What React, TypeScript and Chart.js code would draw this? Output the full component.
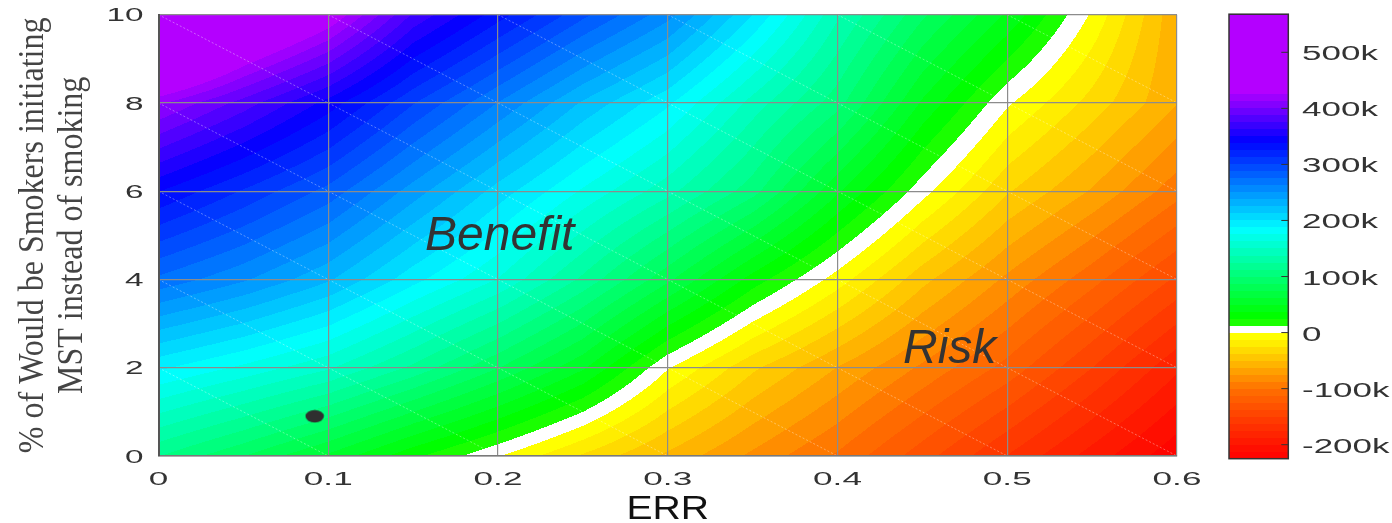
import React, { useEffect, useRef } from "react";
import { Chart, registerables } from "chart.js";

Chart.register(...registerables);

// ---------- data ----------
const ERR_GRID = [0, 0.05, 0.1, 0.15, 0.2, 0.25, 0.3, 0.35, 0.4, 0.45, 0.5, 0.55, 0.6];
const SHARE_GRID = [0, 2, 4, 6, 8, 10];
// net effect (thousands) along ERR_GRID, one array per SHARE_GRID row
const net_share0 = [113, 88, 60, 28, 1, -27, -53, -78, -102, -132, -163, -193, -222];
const net_share2 = [190, 172, 152, 122, 88, 52, 1, -35, -63, -90, -117, -150, -185];
const net_share4 = [272, 252, 227, 192, 162, 122, 78, 32, -6, -46, -78, -108, -140];
const net_share6 = [338, 311, 283, 244, 207, 173, 142, 105, 52, 5, -36, -64, -95];
const net_share8 = [415, 382, 345, 301, 262, 223, 190, 145, 105, 48, 2, -30, -62];
const net_share10 = [560, 485, 440, 373, 331, 291, 255, 200, 140, 90, 48, -2, -60];
const NET_ROWS = [net_share0, net_share2, net_share4, net_share6, net_share8, net_share10];

const X_TICKS = [0, 0.1, 0.2, 0.3, 0.4, 0.5, 0.6];
const X_TICK_LABELS = ["0", "0.1", "0.2", "0.3", "0.4", "0.5", "0.6"];
const Y_TICKS = [0, 2, 4, 6, 8, 10];
const Y_TICK_LABELS = ["0", "2", "4", "6", "8", "10"];
const CB_TICKS = [-200, -100, 0, 100, 200, 300, 400, 500];
const CB_TICK_LABELS = ["-200k", "-100k", "0", "100k", "200k", "300k", "400k", "500k"];
const CB_RANGE = [-225, 568];
const LEVEL_STEP = 12.5;
const MARKER = [{ x: 0.092, y: 0.9 }];
const X_TITLE = "ERR";
const Y_TITLE = ["% of Would be Smokers initiating", "MST instead of smoking"];
const LABEL_BENEFIT = "Benefit";
const LABEL_RISK = "Risk";

// ---------- colour map ----------
const CMAP: [number, number[]][] = [
  [-225, [255, 0, 0]],
  [-204, [255, 16, 0]],
  [-150, [255, 64, 0]],
  [-100, [255, 112, 0]],
  [-79, [255, 144, 0]],
  [-49, [255, 191, 0]],
  [-25, [255, 228, 0]],
  [-6, [255, 255, 0]],
  [0, [255, 255, 0]],
  [12.5, [40, 255, 0]],
  [31, [0, 255, 0]],
  [183, [0, 255, 255]],
  [341, [0, 0, 255]],
  [430, [180, 0, 255]],
  [700, [180, 0, 255]],
];

function cmap(v: number): number[] {
  if (v <= CMAP[0][0]) return CMAP[0][1];
  for (let i = 1; i < CMAP.length; i++) {
    if (v <= CMAP[i][0]) {
      const [v0, c0] = CMAP[i - 1];
      const [v1, c1] = CMAP[i];
      const t = (v - v0) / (v1 - v0);
      return [0, 1, 2].map((k) => Math.round(c0[k] + (c1[k] - c0[k]) * t));
    }
  }
  return CMAP[CMAP.length - 1][1];
}

function bandColor(v: number): number[] {
  const b = Math.floor(v / LEVEL_STEP);
  if (b === 0) return [255, 255, 255];
  return cmap((b + 0.5) * LEVEL_STEP);
}

function locate(arr: number[], v: number): [number, number] {
  let i = 0;
  while (i < arr.length - 2 && v > arr[i + 1]) i++;
  let t = (v - arr[i]) / (arr[i + 1] - arr[i]);
  t = Math.max(0, Math.min(1, t));
  return [i, t];
}

function fieldAt(x: number, y: number): number {
  const [i, tx] = locate(ERR_GRID, x);
  const [j, ty] = locate(SHARE_GRID, y);
  const a = NET_ROWS[j][i] * (1 - tx) + NET_ROWS[j][i + 1] * tx;
  const b = NET_ROWS[j + 1][i] * (1 - tx) + NET_ROWS[j + 1][i + 1] * tx;
  return a * (1 - ty) + b * ty;
}

function stretchedText(
  ctx: CanvasRenderingContext2D,
  text: string,
  x: number,
  y: number,
  font: string,
  sx: number,
  align: "left" | "center" | "right",
  color: string
) {
  ctx.save();
  ctx.font = font;
  ctx.fillStyle = color;
  ctx.textBaseline = "alphabetic";
  ctx.textAlign = "left";
  const w = ctx.measureText(text).width * sx;
  const left = align === "center" ? x - w / 2 : align === "right" ? x - w : x;
  ctx.translate(left, y);
  ctx.scale(sx, 1);
  ctx.fillText(text, 0, 0);
  ctx.restore();
}

const heatmapPlugin = {
  id: "heatmap",
  beforeDraw(chart: any) {
    const { ctx, chartArea: a, scales } = chart;
    const xs = scales.x;
    const ys = scales.y;
    const L = Math.round(a.left);
    const T = Math.round(a.top);
    const W = Math.round(a.right) - L;
    const H = Math.round(a.bottom) - T;
    const img = ctx.createImageData(W, H);
    const xv: number[] = [];
    for (let i = 0; i < W; i++) xv.push(xs.getValueForPixel(L + i + 0.5));
    for (let j = 0; j < H; j++) {
      const yv = ys.getValueForPixel(T + j + 0.5);
      for (let i = 0; i < W; i++) {
        const c = bandColor(fieldAt(xv[i], yv));
        const p = (j * W + i) * 4;
        img.data[p] = c[0];
        img.data[p + 1] = c[1];
        img.data[p + 2] = c[2];
        img.data[p + 3] = 255;
      }
    }
    ctx.putImageData(img, L, T);

    // faint diagonal artefacts of the triangulated surface
    ctx.save();
    ctx.strokeStyle = "rgba(255,255,255,0.45)";
    ctx.lineWidth = 0.8;
    ctx.setLineDash([2, 2]);
    for (let i = 0; i < X_TICKS.length - 1; i++) {
      for (let j = 0; j < Y_TICKS.length - 1; j++) {
        ctx.beginPath();
        ctx.moveTo(xs.getPixelForValue(X_TICKS[i]), ys.getPixelForValue(Y_TICKS[j + 1]));
        ctx.lineTo(xs.getPixelForValue(X_TICKS[i + 1]), ys.getPixelForValue(Y_TICKS[j]));
        ctx.stroke();
      }
    }
    ctx.restore();
  },
};

const textPlugin = {
  id: "texts",
  afterDraw(chart: any) {
    const { ctx, chartArea: a, scales } = chart;
    const xs = scales.x;
    const ys = scales.y;
    const cb = scales.cb;

    X_TICKS.forEach((v, i) =>
      stretchedText(ctx, X_TICK_LABELS[i], xs.getPixelForValue(v), 484.5, '18px "Liberation Sans"', 1.95, "center", "#333")
    );
    Y_TICKS.forEach((v, i) =>
      stretchedText(ctx, Y_TICK_LABELS[i], 143.5, ys.getPixelForValue(v) + 6.6, '18.5px "Liberation Sans"', 1.8, "right", "#333")
    );

    // x title
    stretchedText(ctx, X_TITLE, (a.left + a.right) / 2, 518.7, '34px "Liberation Sans"', 1.15, "center", "#111");

    // y title (two rotated lines)
    const cy = (a.top + a.bottom) / 2;
    const baselines = [43, 82];
    Y_TITLE.forEach((line, k) => {
      ctx.save();
      ctx.font = '32px "Liberation Serif"';
      ctx.fillStyle = "#444";
      ctx.textAlign = "center";
      ctx.textBaseline = "alphabetic";
      ctx.translate(baselines[k], cy);
      ctx.rotate(-Math.PI / 2);
      ctx.scale(1, 1.09);
      ctx.fillText(line, 0, 0);
      ctx.restore();
    });

    // annotations
    ctx.save();
    ctx.font = 'italic 48px "Liberation Sans"';
    ctx.fillStyle = "#333";
    ctx.textAlign = "left";
    ctx.textBaseline = "alphabetic";
    ctx.fillText(LABEL_BENEFIT, xs.getPixelForValue(0.157), ys.getPixelForValue(4.67));
    ctx.fillText(LABEL_RISK, xs.getPixelForValue(0.4386), ys.getPixelForValue(2.107));
    ctx.restore();

    // colour bar
    const cbL = 1229;
    const cbR = 1288.3;
    const top = cb.getPixelForValue(CB_RANGE[1]);
    const bot = cb.getPixelForValue(CB_RANGE[0]);
    for (let y = Math.floor(top); y < Math.ceil(bot); y++) {
      const v = cb.getValueForPixel(y + 0.5);
      const c = bandColor(Math.max(CB_RANGE[0], Math.min(CB_RANGE[1], v)));
      ctx.fillStyle = `rgb(${c[0]},${c[1]},${c[2]})`;
      ctx.fillRect(cbL, y, cbR - cbL, 1);
    }
    ctx.save();
    ctx.strokeStyle = "#333";
    ctx.lineWidth = 1.5;
    ctx.strokeRect(cbL, top, cbR - cbL, bot - top);
    ctx.lineWidth = 1;
    CB_TICKS.forEach((v, i) => {
      const py = cb.getPixelForValue(v);
      ctx.beginPath();
      ctx.moveTo(cbR - 7, py);
      ctx.lineTo(cbR, py);
      ctx.stroke();
      stretchedText(ctx, CB_TICK_LABELS[i], 1302, py + 8, '20px "Liberation Sans"', 1.75, "left", "#333");
    });
    ctx.restore();
  },
};

export default function App() {
  const ref = useRef<HTMLCanvasElement | null>(null);

  useEffect(() => {
    document.body.style.margin = "0";
    document.body.style.overflow = "hidden";
    const canvas = ref.current;
    if (!canvas) return;

    const dot = document.createElement("canvas");
    dot.width = 20;
    dot.height = 14;
    const dc = dot.getContext("2d")!;
    dc.fillStyle = "#2f2f2f";
    dc.beginPath();
    dc.ellipse(10, 7, 9.2, 6.2, 0, 0, Math.PI * 2);
    dc.fill();

    const chart = new Chart(canvas, {
      type: "scatter",
      data: {
        datasets: [
          {
            data: MARKER,
            pointStyle: dot as any,
            pointRadius: 10,
            xAxisID: "x",
            yAxisID: "y",
          },
        ],
      },
      options: {
        responsive: false,
        animation: false,
        events: [],
        layout: { padding: { top: 14.7, right: 215, left: 0, bottom: 0 } },
        plugins: { legend: { display: false }, tooltip: { enabled: false } },
        scales: {
          x: {
            type: "linear",
            min: 0,
            max: 0.6,
            ticks: { display: false, stepSize: 0.1 },
            grid: { color: "#8c8c8c", lineWidth: 1.2, drawTicks: false },
            border: { color: "#7a7a7a", width: 1.5 },
            afterFit: (s: any) => {
              s.height = 67;
            },
          },
          y: {
            type: "linear",
            min: 0,
            max: 10,
            ticks: { display: false, stepSize: 2 },
            grid: { color: "#8c8c8c", lineWidth: 1.2, drawTicks: false },
            border: { color: "#555", width: 2 },
            afterFit: (s: any) => {
              s.width = 158.5;
            },
          },
          cb: {
            type: "linear",
            position: "right",
            display: false,
            min: -220.2,
            max: 567.1,
          },
        },
      } as any,
      plugins: [heatmapPlugin, textPlugin],
    });
    return () => chart.destroy();
  }, []);

  return (
    <div style={{ width: 1392, height: 523 }}>
      <canvas ref={ref} width={1392} height={523} />
    </div>
  );
}
